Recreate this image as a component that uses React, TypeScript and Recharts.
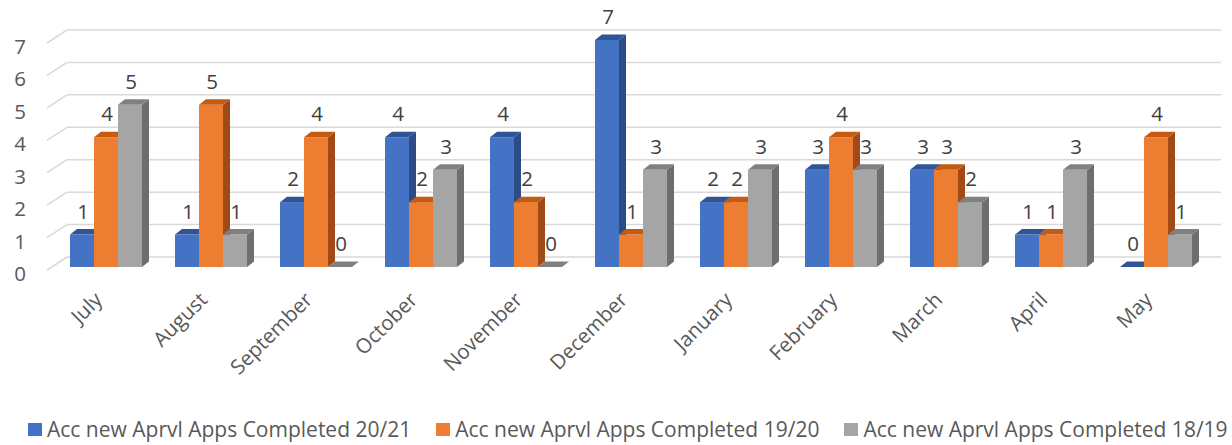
import React from 'react';
import { BarChart, Bar, XAxis, YAxis, CartesianGrid, LabelList } from 'recharts';

const months = ['July', 'August', 'September', 'October', 'November', 'December', 'January', 'February', 'March', 'April', 'May'];
const completed2021 = [1, 1, 2, 4, 4, 7, 2, 3, 3, 1, 0];
const completed1920 = [4, 5, 4, 2, 2, 1, 2, 4, 3, 1, 4];
const completed1819 = [5, 1, 0, 3, 0, 3, 3, 3, 2, 3, 1];
const yTicks = [0, 1, 2, 3, 4, 5, 6, 7];

const seriesNames = [
    'Acc new Aprvl Apps Completed 20/21',
    'Acc new Aprvl Apps Completed 19/20',
    'Acc new Aprvl Apps Completed 18/19',
];

const data = months.map((m, i) => ({
    month: m,
    a: completed2021[i],
    b: completed1920[i],
    c: completed1819[i],
}));

const FONT = '"Open Sans", sans-serif';
const FS = 20.5;
const DX = 7;
const DY = 5.5;

const palette = [
    { front: '#4472C4', top: '#2F5597', side: '#2B4C87' },
    { front: '#ED7D31', top: '#C55A11', side: '#A24A17' },
    { front: '#A5A5A5', top: '#808080', side: '#6E6E6E' },
];

function Column3D(props: any) {
    const { x, y, width, height, colors } = props;
    const h = Math.max(height || 0, 0);
    const r = x + width;
    const b = y + h;
    return (
        <g>
            {h > 0 && <rect x={x} y={y} width={width} height={h} fill={colors.front} />}
            {h > 0 && (
                <polygon
                    points={`${r},${y} ${r + DX},${y - DY} ${r + DX},${b - DY} ${r},${b}`}
                    fill={colors.side}
                />
            )}
            <polygon
                points={`${x},${y} ${x + DX},${y - DY} ${r + DX},${y - DY} ${r},${y}`}
                fill={colors.top}
            />
        </g>
    );
}

function ValueLabel(props: any) {
    const { x, y, width, value } = props;
    return (
        <text
            x={x + width / 2 + 1}
            y={y - 24}
            textAnchor="middle"
            dominantBaseline="central"
            fontFamily={FONT}
            fontSize={FS}
            fill="#404040"
        >
            {value}
        </text>
    );
}

function GridLine(props: any) {
    const { x1, y1, index } = props;
    return (
        <g key={`grid-${index}-${y1}`}>
            <line x1={x1 - 6} y1={y1 + 3} x2={x1 + 14} y2={y1 - 10} stroke="#D9D9D9" strokeWidth={1.5} />
            <line x1={x1 + 14} y1={y1 - 10} x2={1221} y2={y1 - 10} stroke="#D9D9D9" strokeWidth={1.5} />
        </g>
    );
}

function YTick(props: any) {
    const { y, payload } = props;
    return (
        <text x={26} y={y + 6} textAnchor="end" dominantBaseline="central" fontFamily={FONT} fontSize={FS} fill="#595959">
            {payload.value}
        </text>
    );
}

function XTick(props: any) {
    const { x, payload } = props;
    return (
        <g transform={`translate(${x - 7},${296}) rotate(-45)`}>
            <text x={0} y={0} dy="0.35em" textAnchor="end" fontFamily={FONT} fontSize={FS} fill="#595959">
                {payload.value}
            </text>
        </g>
    );
}

export default function App() {
    return (
        <div style={{ position: 'absolute', left: 0, top: 0, width: 1232, height: 445, background: '#fff' }}>
            <BarChart
                width={1232}
                height={445}
                data={data}
                margin={{ top: 40, right: 24, left: 0, bottom: 98 }}
                barCategoryGap={17}
                barGap={0}
            >
                <CartesianGrid vertical={false} horizontal={(p: any) => <GridLine {...p} />} />
                <XAxis dataKey="month" height={80} axisLine={false} tickLine={false} interval={0} tick={<XTick />} />
                <YAxis width={53} domain={[0, 7]} ticks={yTicks} axisLine={false} tickLine={false} tick={<YTick />} />
                {(['a', 'b', 'c'] as const).map((key, i) => (
                    <Bar
                        key={key}
                        dataKey={key}
                        name={seriesNames[i]}
                        fill={palette[i].front}
                        isAnimationActive={false}
                        shape={(p: any) => <Column3D {...p} colors={palette[i]} />}
                    >
                        <LabelList dataKey={key} content={<ValueLabel />} />
                    </Bar>
                ))}
            </BarChart>
            <div
                style={{
                    position: 'absolute',
                    left: 28,
                    top: 414,
                    height: 30,
                    display: 'flex',
                    alignItems: 'center',
                    fontFamily: FONT,
                    fontSize: 21,
                    color: '#595959',
                    whiteSpace: 'nowrap',
                }}
            >
                {seriesNames.map((name, i) => (
                    <div key={name} style={{ display: 'flex', alignItems: 'center', marginRight: 25 }}>
                        <span style={{ width: 14, height: 13, background: palette[i].front, marginRight: 5, display: 'inline-block' }} />
                        <span>{name}</span>
                    </div>
                ))}
            </div>
        </div>
    );
}
